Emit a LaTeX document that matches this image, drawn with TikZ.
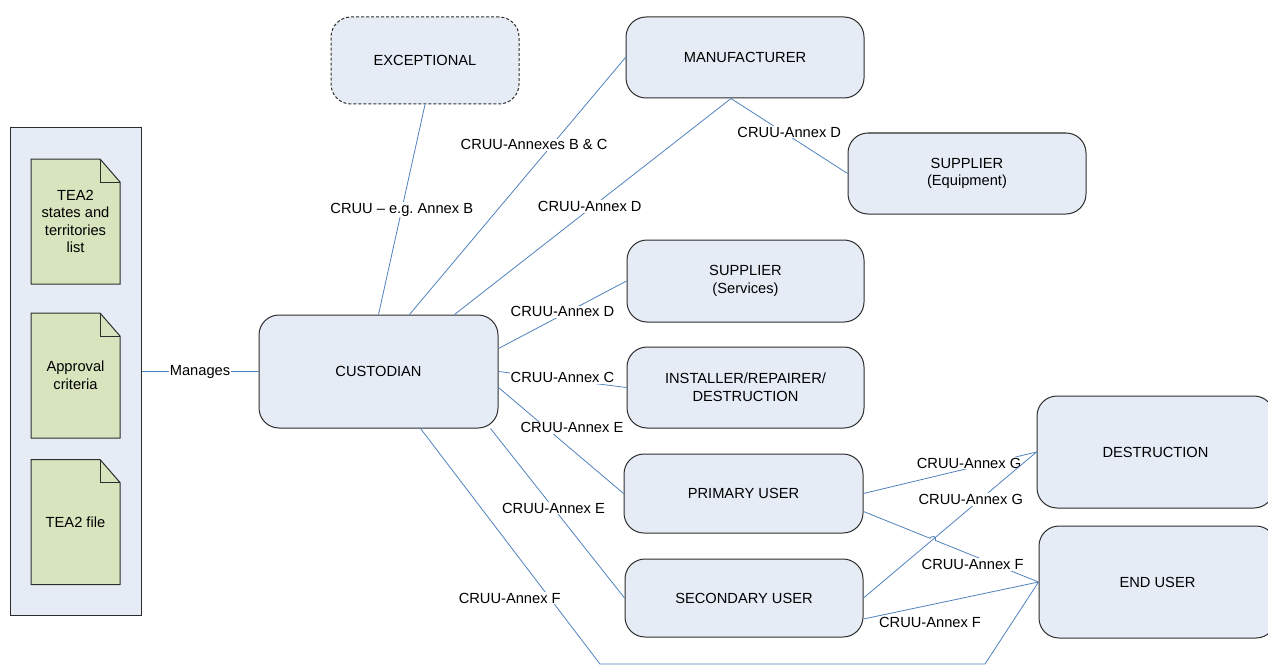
\documentclass[tikz,border=0pt]{standalone}
\usepackage{fontspec}
\setmainfont{Liberation Sans}

\definecolor{boxfill}{RGB}{230,236,246}
\definecolor{docfill}{RGB}{215,228,189}
\definecolor{linkblue}{RGB}{79,129,189}
\definecolor{edgegray}{RGB}{45,45,45}

\begin{document}
\begin{tikzpicture}[x=1pt, y=-1pt,
    font=\fontsize{14.67}{17.5}\selectfont,
    role/.style={draw=edgegray, fill=boxfill, line width=1pt, rounded corners=20pt,
      align=center, inner sep=0pt, minimum width=238pt},
    docline/.style={draw=edgegray, fill=docfill, line width=1pt},
    link/.style={draw=linkblue, line width=0.8pt},
    lbl/.style={fill=white, inner sep=1pt},
    note/.style={inner sep=1pt}]
    \useasboundingbox (0,0) rectangle (1268,666);

    % left panel with the documents
    \node[draw=edgegray, fill=boxfill, line width=1pt, minimum width=131pt, minimum height=487pt] (panel) at (75.5,371.5) {};
    \foreach \d/\y/\t in {tealist/221.5/{TEA2\\states and\\territories\\list}, approval/375.5/{Approval\\criteria}, teafile/522/{TEA2 file}} {
      \filldraw[docline] (31,\y+62.5) -- (31,\y-62.5) -- (100,\y-62.5) -- (120,\y-39.5) -- (120,\y+62.5) -- cycle;
      \draw[docline, fill=none] (100,\y-62.5) -- (100,\y-39.5) -- (120,\y-39.5);
      \node[align=center] (\d) at (75.5,\y) {\t};
    }

    % roles
    \node[role, minimum height=113pt, minimum width=239pt] (custodian) at (378.5,371.5) {CUSTODIAN};
    \node[role, dashed, dash pattern=on 3pt off 2pt, minimum height=87pt, minimum width=188pt] (exceptional) at (425,60.5) {EXCEPTIONAL};
    \node[role, minimum height=81pt] (manufacturer) at (745,57.5) {MANUFACTURER};
    \node[role, minimum height=81pt] (supequip) at (967,173.5) {SUPPLIER\\(Equipment)};
    \node[role, minimum height=82pt, minimum width=237pt] (supserv) at (745.5,281) {SUPPLIER\\(Services)};
    \node[role, minimum height=81pt, minimum width=237pt] (installer) at (745.5,387.5) {INSTALLER/REPAIRER/\\DESTRUCTION};
    \node[role, minimum height=79pt, minimum width=239pt] (primary) at (743.5,493.5) {PRIMARY USER};
    \node[role, minimum height=78pt] (secondary) at (744,598) {SECONDARY USER};
    \node[role, minimum height=112pt, minimum width=237pt] (destruct) at (1155.5,452) {DESTRUCTION};
    \node[role, minimum height=112pt, minimum width=237pt] (enduser) at (1157.5,582) {END USER};

    % connectors
    \draw[link] (panel.east) -- node[lbl] {Manages} (custodian.west);
    \draw[link] (custodian.north) -- node[lbl, pos=0.5] {CRUU -- e.g.\ Annex B} (exceptional.south);
    \draw[link] ([xshift=31pt]custodian.north) -- node[lbl, pos=0.66, xshift=-18pt] {CRUU-Annexes B \& C} (manufacturer.west);
    \draw[link] ([xshift=76pt]custodian.north) -- node[lbl, pos=0.5, xshift=-3pt] {CRUU-Annex D} ([xshift=-14pt]manufacturer.south);
    \draw[link] ([xshift=-14pt]manufacturer.south) -- node[lbl, pos=0.5, yshift=4pt] {CRUU-Annex D} (supequip.west);
    \draw[link] ([yshift=23pt]custodian.east) -- node[lbl, pos=0.5, yshift=3pt] {CRUU-Annex D} (supserv.west);
    \draw[link] (custodian.east) -- node[lbl, pos=0.5, yshift=2pt] {CRUU-Annex C} (installer.west);
    \draw[link] ([yshift=-16pt]custodian.east) -- node[lbl, pos=0.38, xshift=26pt] {CRUU-Annex E} (primary.west);
    \draw[link] ([xshift=-8pt]custodian.south east) -- node[lbl, pos=0.47] {CRUU-Annex E} (secondary.west);
    \coordinate (lowleft) at (600,664);
    \coordinate (lowright) at (985,664);
    \draw[link] ([xshift=42pt]custodian.south) -- node[lbl, pos=0.72, xshift=-40pt] {CRUU-Annex F} (lowleft) -- (lowright) -- (enduser.west);
    \draw[link] (primary.east) -- node[lbl, pos=0.61, yshift=5pt] {CRUU-Annex G} (destruct.west);
    \draw[link] (secondary.east) -- node[lbl, pos=0.62, yshift=8pt] {CRUU-Annex G} (destruct.west);
    \coordinate (hop) at (930.0,538.3);
    \draw[link] ([yshift=-18pt]primary.east) -- (hop) arc[start angle=158.15, end angle=-21.85, radius=3pt]
      -- node[lbl, pos=0.36, yshift=-9pt] {CRUU-Annex F} (enduser.west);
    \draw[link] ([yshift=-21pt]secondary.east) -- node[note, pos=0.38, below=11pt] {CRUU-Annex F} (enduser.west);
  \end{tikzpicture}
\end{document}
